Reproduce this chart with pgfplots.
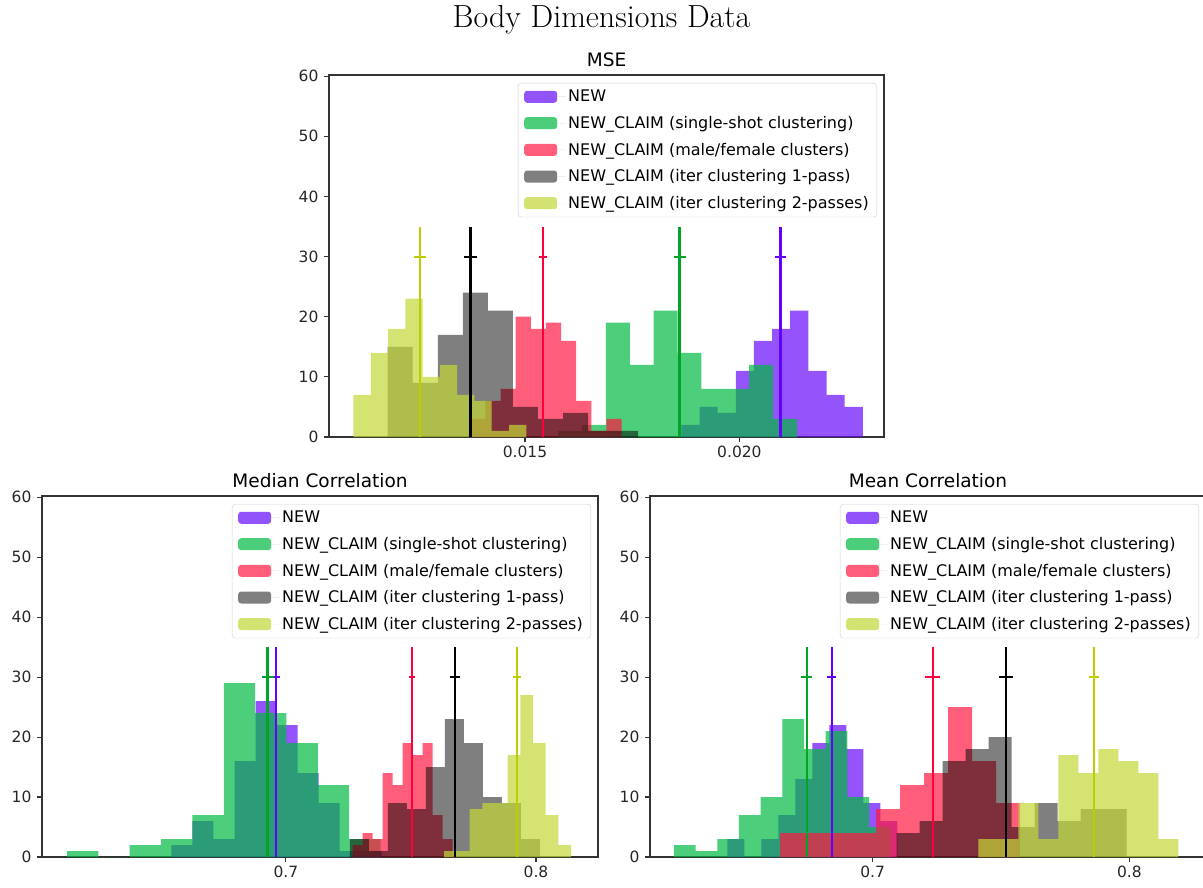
\documentclass[border=0pt]{standalone}
\usepackage{pgfplots}
\pgfplotsset{compat=1.18}
\usepackage{fontspec}
\newfontfamily\dejavu{DejaVu Sans}

\definecolor{cnew}{RGB}{102,10,250}
\definecolor{css}{RGB}{0,185,65}
\definecolor{cmf}{RGB}{255,25,65}
\definecolor{ci2}{RGB}{195,215,55}
\definecolor{lnew}{RGB}{100,0,255}
\definecolor{lss}{RGB}{0,165,40}
\definecolor{lmf}{RGB}{255,0,60}
\definecolor{li2}{RGB}{190,205,0}

\pgfplotsset{
  histax/.style={
    scale only axis, ymin=0, ymax=60.2, scaled x ticks=false,
    axis line style={line width=1.1pt, black!80},
    every tick/.style={line width=1.1pt, black!80},
    tick pos=left, tick align=outside, major tick length=5pt,
    ytick={0,10,20,30,40,50,60}, yticklabels={0,10,20,30,40,50,60},
    ticklabel style={font=\dejavu\fontsize{15.5}{18}\selectfont, text=black!85},
    yticklabel style={xshift=-2pt},
    title style={font=\dejavu\fontsize{18.5}{22}\selectfont, yshift=-1pt},
    legend style={at={(1,1)}, anchor=north east, xshift=-7pt, yshift=-8pt,
      draw=black!18, rounded corners=3pt, fill=white,
      font=\dejavu\fontsize{16}{19}\selectfont, row sep=9pt, inner xsep=6pt, inner ysep=5pt},
    legend cell align=left,
    legend image code/.code={\fill[##1] (0pt,-6pt) rectangle (33pt,6pt); \path (33pt,0pt) -- (42pt,0pt);},
  },
  hist/.style={const plot, draw=none, fill=#1, fill opacity=0.7},
  histk/.style={const plot, draw=none, fill=black, fill opacity=0.5},
  vl/.style={line width=2.2pt, color=#1, forget plot},
}

\begin{document}
\begin{tikzpicture}
\useasboundingbox (0pt,0pt) rectangle (1203pt,-888pt);
\node[font=\fontsize{32}{38}\selectfont] at (601.5pt,-20pt) {Body Dimensions Data};

% ---------------- MSE ----------------
\begin{axis}[histax, at={(329pt,-437pt)}, anchor=south west, width=555pt, height=362pt,
  xmin=0.010429, xmax=0.023372, xtick={0.015,0.020}, xticklabels={0.015,0.020},
  title={MSE}]
\addplot[hist=cnew] coordinates {(0.018647,2) (0.019070,5) (0.019493,4) (0.019916,11) (0.020339,16) (0.020762,18) (0.021185,21) (0.021608,11) (0.022031,7) (0.022454,5) (0.022877,5)} \closedcycle;
\addplot[hist=css] coordinates {(0.015773,1) (0.016330,2) (0.016887,19) (0.017444,12) (0.018001,21) (0.018558,14) (0.019115,8) (0.019672,8) (0.020229,12) (0.020786,3) (0.021343,3)} \closedcycle;
\addplot[hist=cmf] coordinates {(0.013723,3) (0.014076,6) (0.014429,8) (0.014782,20) (0.015135,18) (0.015488,19) (0.015841,16) (0.016194,6) (0.016547,1) (0.016900,3) (0.017253,3)} \closedcycle;
\addplot[histk] coordinates {(0.011798,15) (0.012382,9) (0.012966,17) (0.013550,24) (0.014134,21) (0.014718,5) (0.015302,3) (0.015886,4) (0.016470,1) (0.017054,1) (0.017638,1)} \closedcycle;
\addplot[hist=ci2] coordinates {(0.011000,7) (0.011403,14) (0.011806,18) (0.012209,23) (0.012612,10) (0.013015,12) (0.013418,7) (0.013821,6) (0.014224,1) (0.014627,2) (0.015030,2)} \closedcycle;
\legend{NEW, NEW\_CLAIM (single-shot clustering), NEW\_CLAIM (male/female clusters), NEW\_CLAIM (iter clustering 1-pass), NEW\_CLAIM (iter clustering 2-passes)}
\addplot[vl=lnew] coordinates {(0.020958,0) (0.020958,35)};
\addplot[vl=lnew] coordinates {(0.020838,30) (0.021078,30)};
\addplot[vl=lss] coordinates {(0.018605,0) (0.018605,35)};
\addplot[vl=lss] coordinates {(0.018465,30) (0.018745,30)};
\addplot[vl=lmf] coordinates {(0.015412,0) (0.015412,35)};
\addplot[vl=lmf] coordinates {(0.015322,30) (0.015502,30)};
\addplot[vl=black] coordinates {(0.013731,0) (0.013731,35)};
\addplot[vl=black] coordinates {(0.013571,30) (0.013891,30)};
\addplot[vl=li2] coordinates {(0.012555,0) (0.012555,35)};
\addplot[vl=li2] coordinates {(0.012421,30) (0.012689,30)};
\end{axis}

% ---------------- Median Correlation ----------------
\begin{axis}[histax, at={(42pt,-857pt)}, anchor=south west, width=556pt, height=361pt,
  xmin=0.60252, xmax=0.8248, xtick={0.7,0.8}, xticklabels={0.7,0.8},
  title={Median Correlation}]
\addplot[hist=cnew] coordinates {(0.65428,2) (0.66268,6) (0.67108,3) (0.67948,16) (0.68788,26) (0.69628,22) (0.70468,14) (0.71308,9) (0.72148,1) (0.72988,1) (0.73828,1)} \closedcycle;
\addplot[hist=css] coordinates {(0.61252,1) (0.62505,0) (0.63759,2) (0.65012,3) (0.66265,7) (0.67519,29) (0.68772,24) (0.70025,19) (0.71279,12) (0.72532,3) (0.73785,3)} \closedcycle;
\addplot[hist=cmf] coordinates {(0.72667,2) (0.73067,4) (0.73467,3) (0.73867,14) (0.74267,12) (0.74667,19) (0.75067,17) (0.75467,19) (0.75867,7) (0.76267,3) (0.76667,3)} \closedcycle;
\addplot[histk] coordinates {(0.7256,3) (0.7332,1) (0.7408,9) (0.7484,8) (0.7560,15) (0.7636,23) (0.7712,19) (0.7788,10) (0.7864,9) (0.7940,3) (0.8016,3)} \closedcycle;
\addplot[hist=ci2] coordinates {(0.76333,1) (0.76840,1) (0.77347,8) (0.77854,9) (0.78361,9) (0.78868,17) (0.79375,27) (0.79882,19) (0.80389,7) (0.80896,2) (0.81403,2)} \closedcycle;
\legend{NEW, NEW\_CLAIM (single-shot clustering), NEW\_CLAIM (male/female clusters), NEW\_CLAIM (iter clustering 1-pass), NEW\_CLAIM (iter clustering 2-passes)}
\addplot[vl=lnew] coordinates {(0.6960,0) (0.6960,35)};
\addplot[vl=lnew] coordinates {(0.6944,30) (0.6976,30)};
\addplot[vl=lss] coordinates {(0.69268,0) (0.69268,35)};
\addplot[vl=lss] coordinates {(0.69028,30) (0.69508,30)};
\addplot[vl=lmf] coordinates {(0.75053,0) (0.75053,35)};
\addplot[vl=lmf] coordinates {(0.74923,30) (0.75183,30)};
\addplot[vl=black] coordinates {(0.7676,0) (0.7676,35)};
\addplot[vl=black] coordinates {(0.7657,30) (0.7695,30)};
\addplot[vl=li2] coordinates {(0.79227,0) (0.79227,35)};
\addplot[vl=li2] coordinates {(0.79067,30) (0.79387,30)};
\end{axis}

% ---------------- Mean Correlation ----------------
\begin{axis}[histax, at={(650pt,-857pt)}, anchor=south west, width=556pt, height=361pt,
  xmin=0.61325, xmax=0.82984, xtick={0.7,0.8}, xticklabels={0.7,0.8},
  title={Mean Correlation}]
\addplot[hist=cnew] coordinates {(0.64336,3) (0.64998,0) (0.65661,3) (0.66323,7) (0.66985,13) (0.67648,19) (0.68310,22) (0.68972,18) (0.69634,9) (0.70297,6) (0.70959,6)} \closedcycle;
\addplot[hist=css] coordinates {(0.62259,2) (0.63103,1) (0.63947,3) (0.64791,7) (0.65636,10) (0.66480,23) (0.67324,18) (0.68168,21) (0.69012,10) (0.69856,5) (0.70700,5)} \closedcycle;
\addplot[hist=cmf] coordinates {(0.66389,4) (0.67324,4) (0.68259,4) (0.69194,4) (0.70129,8) (0.71064,12) (0.71999,14) (0.72934,25) (0.73869,16) (0.74804,9) (0.75739,9)} \closedcycle;
\addplot[histk] coordinates {(0.70935,4) (0.71831,6) (0.72727,16) (0.73623,18) (0.74519,20) (0.75415,5) (0.76311,9) (0.77207,6) (0.78103,8) (0.78999,8) (0.79895,8)} \closedcycle;
\addplot[hist=ci2] coordinates {(0.74114,3) (0.74893,3) (0.75672,9) (0.76451,3) (0.77230,17) (0.78009,14) (0.78788,18) (0.79567,16) (0.80346,14) (0.81125,3) (0.81904,3)} \closedcycle;
\legend{NEW, NEW\_CLAIM (single-shot clustering), NEW\_CLAIM (male/female clusters), NEW\_CLAIM (iter clustering 1-pass), NEW\_CLAIM (iter clustering 2-passes)}
\addplot[vl=lnew] coordinates {(0.68403,0) (0.68403,35)};
\addplot[vl=lnew] coordinates {(0.68223,30) (0.68583,30)};
\addplot[vl=lss] coordinates {(0.67429,0) (0.67429,35)};
\addplot[vl=lss] coordinates {(0.67219,30) (0.67639,30)};
\addplot[vl=lmf] coordinates {(0.72337,0) (0.72337,35)};
\addplot[vl=lmf] coordinates {(0.72047,30) (0.72627,30)};
\addplot[vl=black] coordinates {(0.75181,0) (0.75181,35)};
\addplot[vl=black] coordinates {(0.74911,30) (0.75451,30)};
\addplot[vl=li2] coordinates {(0.78621,0) (0.78621,35)};
\addplot[vl=li2] coordinates {(0.78421,30) (0.78821,30)};
\end{axis}
\end{tikzpicture}
\end{document}
